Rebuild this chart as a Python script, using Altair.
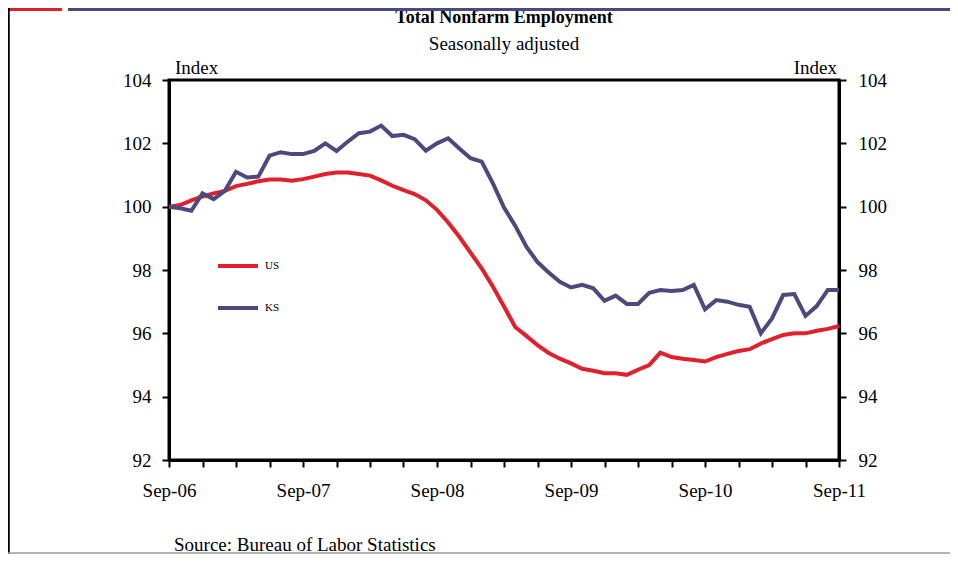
import json
import altair as alt
import pandas as pd

# ---- data (monthly, Sep-2006 .. Sep-2011, index Sep-06 = 100) ----
months = [f"{2006 + (8 + i) // 12}-{(8 + i) % 12 + 1:02d}" for i in range(61)]
us = [100.0, 100.05, 100.2, 100.32, 100.42, 100.5, 100.65, 100.72, 100.8, 100.86,
      100.86, 100.82, 100.87, 100.95, 101.03, 101.08, 101.08, 101.03, 100.98, 100.83,
      100.66, 100.52, 100.4, 100.2, 99.9, 99.5, 99.05, 98.55, 98.05, 97.48,
      96.85, 96.2, 95.92, 95.63, 95.38, 95.2, 95.05, 94.88, 94.82, 94.74,
      94.74, 94.69, 94.85, 95.0, 95.39, 95.25, 95.2, 95.16, 95.11, 95.25,
      95.35, 95.44, 95.5, 95.68, 95.82, 95.95, 96.0, 96.0, 96.08, 96.14, 96.23]
ks = [100.0, 99.95, 99.87, 100.42, 100.24, 100.5, 101.1, 100.92, 100.95, 101.61,
      101.72, 101.66, 101.66, 101.76, 102.0, 101.76, 102.05, 102.32, 102.37, 102.56,
      102.23, 102.27, 102.13, 101.77, 102.0, 102.16, 101.84, 101.53, 101.42, 100.74,
      99.97, 99.4, 98.74, 98.25, 97.92, 97.63, 97.45, 97.53, 97.42, 97.03,
      97.19, 96.93, 96.93, 97.28, 97.37, 97.34, 97.37, 97.53, 96.76, 97.05,
      97.0, 96.9, 96.84, 96.0, 96.47, 97.21, 97.24, 96.55, 96.86, 97.37, 97.37]
series_names = ["US", "KS"]
series_colors = ["#E2202B", "#4B4A7E"]
x_tick_labels = ["Sep-06", "Sep-07", "Sep-08", "Sep-09", "Sep-10", "Sep-11"]
y_ticks = [92, 94, 96, 98, 100, 102, 104]
title_text = "Total Nonfarm Employment"
subtitle_text = "Seasonally adjusted"
axis_title = "Index"
source_text = "Source: Bureau of Labor Statistics"

rows = []
for i, m in enumerate(months):
    rows.append({"m": i, "month": m, "series": "US", "value": us[i]})
    rows.append({"m": i, "month": m, "series": "KS", "value": ks[i]})
df = pd.DataFrame(rows)

FONT = "Liberation Serif, Times New Roman, serif"
W, H = 670, 380

label_expr = ("datum.value % 12 == 0 ? " + json.dumps(x_tick_labels) +
              "[datum.value / 12] : ''")

x_enc = alt.X("m:Q", scale=alt.Scale(domain=[0, 60], nice=False, zero=False),
              axis=alt.Axis(values=list(range(0, 61, 3)), labelExpr=label_expr,
                            title=None, grid=False, tickSize=7, tickWidth=2,
                            tickColor="black", domainColor="black", domainWidth=3,
                            labelFont=FONT, labelFontSize=19, labelColor="black",
                            labelPadding=14, labelOverlap=False, labelFlush=False))
y_scale = alt.Scale(domain=[92, 104], nice=False, zero=False)

def y_axis(orient, pad):
    return alt.Axis(orient=orient, values=y_ticks, title=None, grid=False,
                    tickSize=7, tickWidth=2, tickColor="black",
                    domainColor="black", domainWidth=3,
                    labelFont=FONT, labelFontSize=19, labelColor="black",
                    labelPadding=pad)

lines = alt.Chart(df).mark_line(strokeWidth=4).encode(
    x=x_enc,
    y=alt.Y("value:Q", scale=y_scale, axis=y_axis("left", 11)),
    color=alt.Color("series:N",
                    scale=alt.Scale(domain=series_names, range=series_colors),
                    sort=series_names,
                    legend=alt.Legend(title=None, orient="none", legendX=47,
                                      legendY=164, symbolType="stroke",
                                      symbolSize=1600, symbolStrokeWidth=4,
                                      labelFont=FONT, labelFontSize=11,
                                      labelColor="black", labelOffset=5,
                                      rowPadding=12, padding=0)),
    detail="series:N",
)

right = alt.Chart(df).mark_point(opacity=0).encode(
    x=x_enc,
    y=alt.Y("value:Q", scale=y_scale, axis=y_axis("right", 12)),
)

one = alt.Data(values=[{"a": 1}])

def txt(text, x, y, size=19, weight="normal", align="center", baseline="middle"):
    return alt.Chart(one).mark_text(text=text, font=FONT, fontSize=size,
                                    fontWeight=weight, align=align,
                                    baseline=baseline, color="black").encode(
        x=alt.value(x), y=alt.value(y))

def rule(x, x2, y, y2, color, width):
    return alt.Chart(one).mark_rule(color=color, strokeWidth=width).encode(
        x=alt.value(x), x2=alt.value(x2), y=alt.value(y), y2=alt.value(y2))

L, T = 161, 72  # padding
TOTAL_W, TOTAL_H = 942, 546

texts = [
    txt(title_text, W / 2, -62, size=18, weight="bold"),
    txt(subtitle_text, W / 2, -36, size=19),
    txt(axis_title, 6, -12, align="left"),
    txt(axis_title, W - 2, -12, align="right"),
    txt(source_text, 5, 471, align="left", baseline="alphabetic"),
]
decor = [
    rule(-L, -L + 54, -T + 1.5, -T + 1.5, series_colors[0], 3),
    rule(-L + 60, TOTAL_W - L, -T + 1.5, -T + 1.5, series_colors[1], 3),
    rule(-L + 0.5, -L + 0.5, -T, TOTAL_H - T, "black", 2.5),
    rule(-L, TOTAL_W - L, TOTAL_H - T - 1, TOTAL_H - T - 1, "#9A9A9A", 1.5),
]

chart = alt.layer(lines, right, *texts, *decor).resolve_axis(
    y="independent"
).properties(
    width=W, height=H,
    autosize=alt.AutoSizeParams(type="none"),
    padding={"left": L, "top": T, "right": TOTAL_W - L - W, "bottom": TOTAL_H - T - H},
).configure_view(stroke="black", strokeWidth=3)

chart.save("out.html", embed_options={"renderer": "svg", "actions": False})
